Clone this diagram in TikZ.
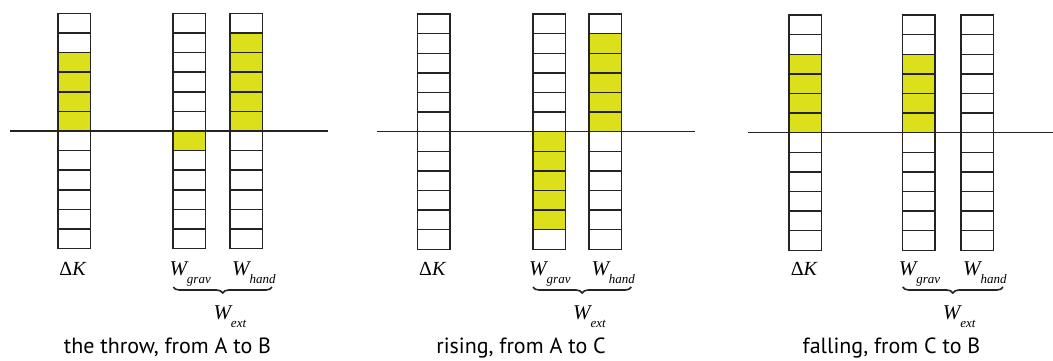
\documentclass[tikz,border=0pt]{standalone}
\usepackage{fontspec}
\setmainfont{Liberation Serif}
\newfontfamily\capfont{PT Sans}
\usetikzlibrary{decorations.pathreplacing}
\definecolor{lemon}{RGB}{220,224,26}
\definecolor{lineclr}{gray}{0.14}
\tikzset{
  cell/.style={draw=lineclr,line width=1.5pt},
  hl/.style={fill=lemon},
  axisline/.style={draw=lineclr,line width=1.5pt},
  klbl/.style={font=\fontsize{20}{20}\selectfont,inner sep=0pt,anchor=base},
  wlbl/.style={font=\fontsize{21}{21}\selectfont\itshape,inner sep=0pt,anchor=base west},
  caplbl/.style={font=\fontsize{22}{22}\selectfont\capfont,inner sep=0pt,anchor=base},
  brc/.style={draw=lineclr,decorate,decoration={brace,amplitude=6pt},line width=1.6pt},
}
\newcommand{\wsub}[2]{#1\raisebox{-8pt}{\fontsize{13}{13}\selectfont #2}}
% yellow block in a column: x, axis y, first cell, last cell (cells 1..12 from top)
\newcommand{\hilite}[4]{%
  \fill[hl] ({#1+0.75},{#2+(#3-7)*\ch}) rectangle ++(32.5,{(#4-#3+1)*\ch});}

\begin{document}
\begin{tikzpicture}[x=1pt,y=-1pt]
\useasboundingbox (0,0) rectangle (1053,360);
\def\ch{19.6}

% ------------------------------------------------ yellow cells
\hilite{57}{131}{3}{6}
\hilite{172.3}{131}{7}{7}
\hilite{229}{131}{2}{6}
\hilite{532}{131.7}{7}{11}
\hilite{588.3}{131.7}{2}{6}
\hilite{788.3}{132.7}{3}{6}
\hilite{901.7}{132.7}{3}{6}

% ------------------------------------------------ the three panels
\foreach \p/\xk/\xg/\xh/\y/\al/\ar/\xc/\cap in {%
  1/57/172.3/229/131/10/327.7/167.5/{the throw, from A to B},
  2/416.7/532/588.3/131.7/376.7/695/521/{rising, from A to C},
  3/788.3/901.7/960/132.7/748.3/1053/891.5/{falling, from C to B}}
{
  \draw[axisline] (\al,\y) -- (\ar,\y);
  \foreach \c in {\xk,\xg,\xh}
    \foreach \n in {1,...,12}
      \draw[cell] ({\c+0.75},{\y+(\n-7)*\ch}) rectangle ++(32.5,\ch);

  \node[klbl] (dk\p) at ({\xk+16},275) {Δ\textit{K}};
  \node[wlbl] (wg\p) at ({\xg-3},275) {\wsub{W}{grav}};
  \node[wlbl] (wh\p) at ({\xh+3},275) {\wsub{W}{hand}};
  \coordinate (bl\p) at ({\xg+1},287);
  \coordinate (br\p) at ({\xh+43},287);
  \draw[brc] (br\p) -- (bl\p);
  \node[wlbl] (we\p) at ({\xg+41},319) {\wsub{W}{ext}};
  \node[caplbl] (cap\p) at (\xc,353) {\cap};
}

\end{tikzpicture}
\end{document}
